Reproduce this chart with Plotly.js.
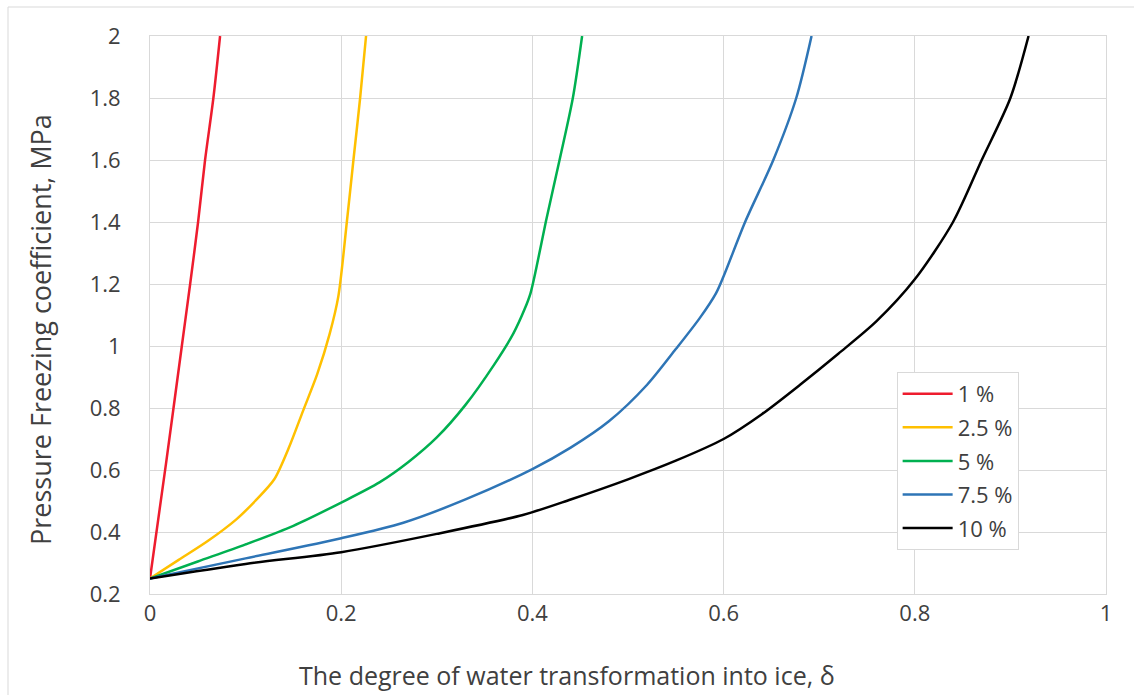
<!DOCTYPE html>
<html>
<head>
<meta charset="utf-8">
<script src="https://cdn.plot.ly/plotly-3.0.1.min.js"></script>
<style>
  html, body { margin: 0; padding: 0; background: #ffffff; }
  #chart { width: 1134px; height: 695px; }
</style>
</head>
<body>
<div id="chart"></div>
<script>
// Degree of water transformation into ice (δ) vs. pressure freezing coefficient (MPa)
const seriesNames = ['1 %', '2.5 %', '5 %', '7.5 %', '10 %'];
const seriesColors = ['#ee1c2e', '#ffc000', '#00b050', '#2e75b6', '#000000'];

const delta1 = [0, 0.0167, 0.0333, 0.042, 0.0503, 0.0576, 0.0663, 0.0733];
const p1     = [0.25, 0.62, 1.00, 1.20, 1.40, 1.60, 1.80, 2.00];

const delta25 = [0, 0.03, 0.06, 0.09, 0.11, 0.13, 0.145, 0.16, 0.175, 0.188, 0.197, 0.2059, 0.2128, 0.2198, 0.226];
const p25     = [0.25, 0.31, 0.37, 0.44, 0.50, 0.57, 0.67, 0.79, 0.91, 1.04, 1.16, 1.40, 1.60, 1.80, 2.00];

const delta5 = [0, 0.05, 0.10, 0.15, 0.20, 0.24, 0.27, 0.30, 0.33, 0.36, 0.38, 0.392, 0.398, 0.404, 0.414, 0.4284, 0.4423, 0.452];
const p5     = [0.25, 0.305, 0.36, 0.42, 0.495, 0.56, 0.625, 0.705, 0.81, 0.94, 1.04, 1.12, 1.17, 1.25, 1.40, 1.60, 1.80, 2.00];

const delta75 = [0, 0.10, 0.20, 0.265, 0.33, 0.40, 0.44, 0.48, 0.52, 0.55, 0.575, 0.592, 0.60, 0.6225, 0.652, 0.676, 0.692];
const p75     = [0.25, 0.315, 0.38, 0.43, 0.505, 0.603, 0.672, 0.757, 0.875, 0.99, 1.09, 1.17, 1.225, 1.40, 1.60, 1.80, 2.00];

const delta10 = [0, 0.10, 0.20, 0.30, 0.39, 0.44, 0.50, 0.55, 0.60, 0.64, 0.68, 0.72, 0.76, 0.80, 0.84, 0.87, 0.90, 0.919];
const p10     = [0.25, 0.297, 0.335, 0.394, 0.455, 0.505, 0.57, 0.63, 0.70, 0.78, 0.875, 0.975, 1.08, 1.215, 1.40, 1.60, 1.80, 2.00];

const xTickVals = [0, 0.2, 0.4, 0.6, 0.8, 1];
const xTickText = ['0', '0.2', '0.4', '0.6', '0.8', '1'];
const yTickVals = [0.2, 0.4, 0.6, 0.8, 1, 1.2, 1.4, 1.6, 1.8, 2];
const yTickText = ['0.2', '0.4', '0.6', '0.8', '1', '1.2', '1.4', '1.6', '1.8', '2'];

const xs = [delta1, delta25, delta5, delta75, delta10];
const ys = [p1, p25, p5, p75, p10];

const FONT = 'Open Sans, sans-serif';
const GRID = '#d9d9d9';
const TEXT = '#404040';

const traces = seriesNames.map((name, i) => ({
  type: 'scatter',
  mode: 'lines',
  name: name,
  x: xs[i],
  y: ys[i],
  legendgroup: 'g' + i,
  line: { color: seriesColors[i], width: 2.5, shape: 'spline', smoothing: 0.8 }
}));

const layout = {
  width: 1134,
  height: 695,
  paper_bgcolor: '#ffffff',
  plot_bgcolor: '#ffffff',
  margin: { l: 150, r: 28, t: 36, b: 101 },
  showlegend: true,
  font: { family: FONT, color: TEXT, size: 22 },
  xaxis: {
    range: [0, 1],
    tickvals: xTickVals,
    ticktext: xTickText,
    showgrid: true,
    gridcolor: GRID,
    gridwidth: 1,
    zeroline: false,
    showline: true,
    linecolor: GRID,
    linewidth: 1,
    mirror: true,
    ticks: '',
    tickfont: { family: FONT, size: 22, color: TEXT },
    fixedrange: true
  },
  yaxis: {
    range: [0.2, 2],
    tickvals: yTickVals,
    ticktext: yTickText,
    showgrid: true,
    gridcolor: GRID,
    gridwidth: 1,
    zeroline: false,
    showline: true,
    linecolor: GRID,
    linewidth: 1,
    mirror: true,
    ticks: '',
    ticklabelstandoff: 24,
    tickfont: { family: FONT, size: 22, color: TEXT },
    fixedrange: true
  },
  legend: {
    x: 0.781,
    y: 0.398,
    xanchor: 'left',
    yanchor: 'top',
    bgcolor: '#ffffff',
    bordercolor: '#d9d9d9',
    borderwidth: 1,
    traceorder: 'grouped',
    tracegroupgap: 2,
    itemwidth: 50,
    font: { family: FONT, size: 22, color: TEXT }
  },
  annotations: [
    {
      text: 'The degree of water transformation into ice, δ',
      xref: 'paper', yref: 'paper',
      x: (567 - 150) / 956, y: (594 - 675) / 558,
      xanchor: 'center', yanchor: 'middle',
      showarrow: false,
      font: { family: FONT, size: 25, color: TEXT }
    },
    {
      text: 'Pressure Freezing coefficient, MPa',
      xref: 'paper', yref: 'paper',
      x: (40 - 150) / 956, y: (594 - 330) / 558,
      xanchor: 'center', yanchor: 'middle',
      textangle: -90,
      showarrow: false,
      font: { family: FONT, size: 27, color: TEXT }
    }
  ],
  shapes: [
    {
      type: 'rect', xref: 'paper', yref: 'paper', layer: 'below',
      x0: (8 - 150) / 956, x1: (1140 - 150) / 956,
      y0: (594 - 710) / 558, y1: (594 - 7) / 558,
      line: { color: '#d9d9d9', width: 1 }
    }
  ]
};

Plotly.newPlot('chart', traces, layout, { displayModeBar: false, staticPlot: true });
</script>
</body>
</html>
